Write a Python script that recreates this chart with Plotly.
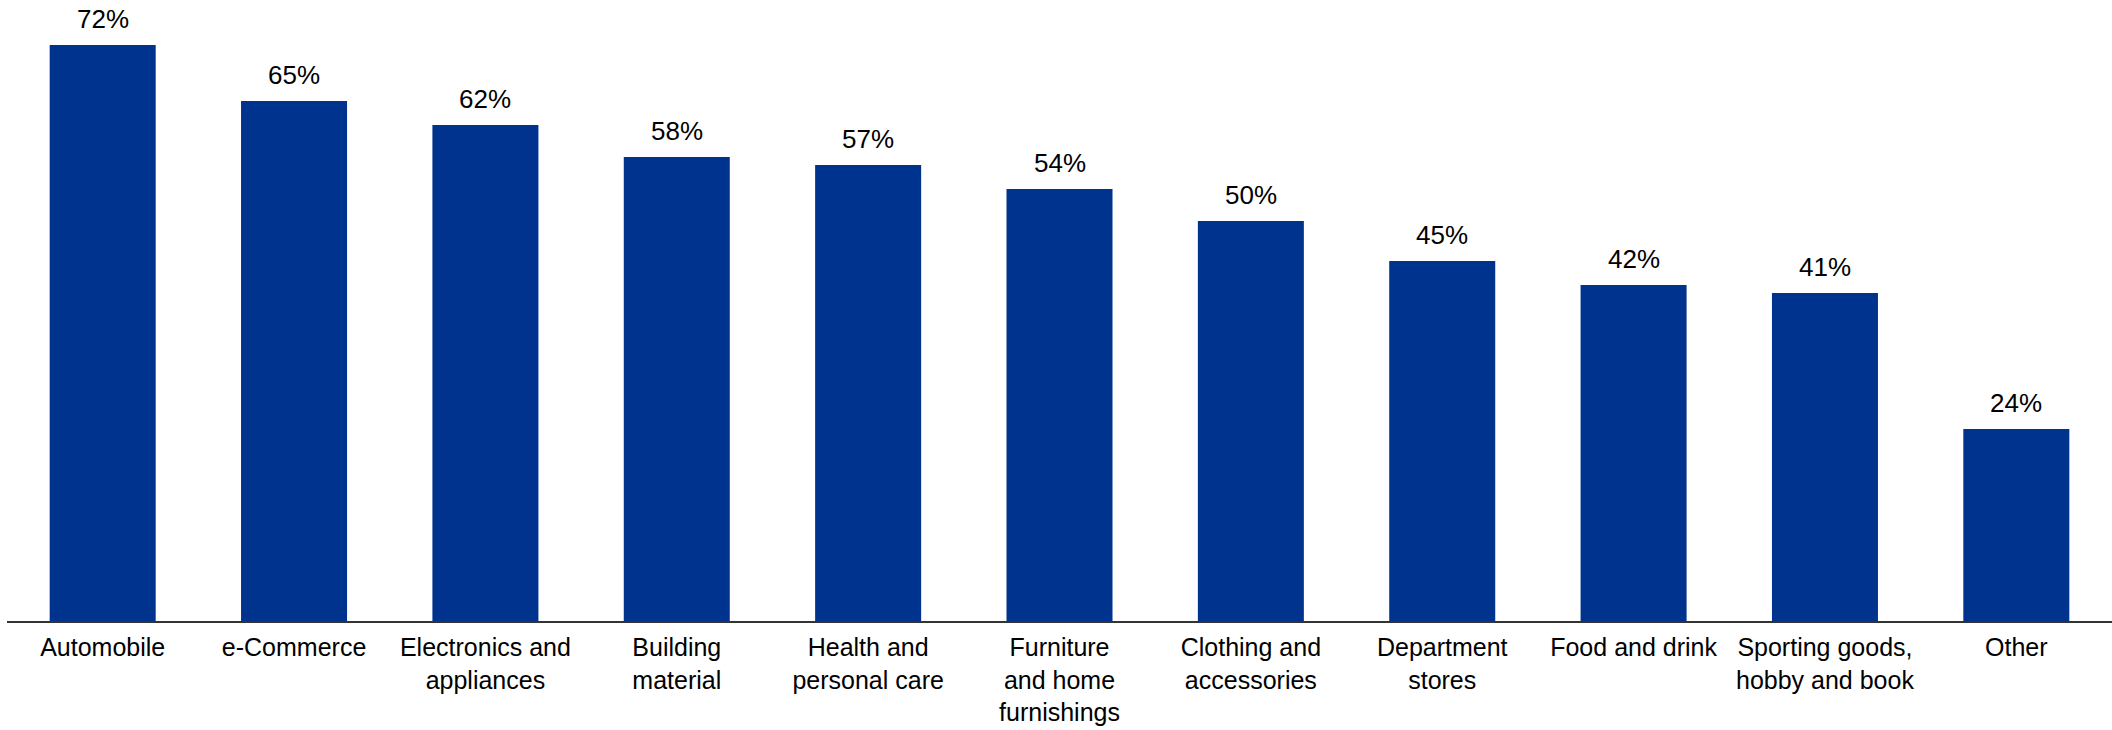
import plotly.graph_objects as go

categories = ["Automobile", "e-Commerce", "Electronics and appliances", "Building material",
              "Health and personal care", "Furniture and home furnishings",
              "Clothing and accessories", "Department stores", "Food and drink",
              "Sporting goods, hobby and book", "Other"]
values = [72, 65, 62, 58, 57, 54, 50, 45, 42, 41, 24]
tick_labels = ["Automobile", "e-Commerce", "Electronics and<br>appliances", "Building<br>material",
               "Health and<br>personal care", "Furniture<br>and home<br>furnishings",
               "Clothing and<br>accessories", "Department<br>stores", "Food and drink",
               "Sporting goods,<br>hobby and book", "Other"]

FONT = "Liberation Sans, Arial, sans-serif"

fig = go.Figure(go.Bar(
    x=categories, y=values,
    marker=dict(color="#00338D", line=dict(width=0)),
    hoverinfo="skip",
))

for c, v in zip(categories, values):
    fig.add_annotation(x=c, y=v, text=f"{v}%", showarrow=False, yanchor="bottom",
                       yshift=9, font=dict(family=FONT, size=26, color="#000000"))

fig.update_layout(
    width=2112, height=730,
    margin=dict(l=7, r=0, t=5, b=109),
    paper_bgcolor="white", plot_bgcolor="white",
    bargap=0.446,
    showlegend=False,
    font=dict(family=FONT, size=26, color="#000000"),
)
fig.update_xaxes(tickmode="array", tickvals=categories, ticktext=tick_labels,
                 showline=True, linecolor="#333333", linewidth=2, ticks="",
                 ticklabelstandoff=3, automargin=False,
                 showgrid=False, tickfont=dict(family=FONT, size=25, color="#000000"))
fig.update_yaxes(range=[0, 77], visible=False, showgrid=False, zeroline=False,
                 automargin=False)

fig.write_html("out.html")
